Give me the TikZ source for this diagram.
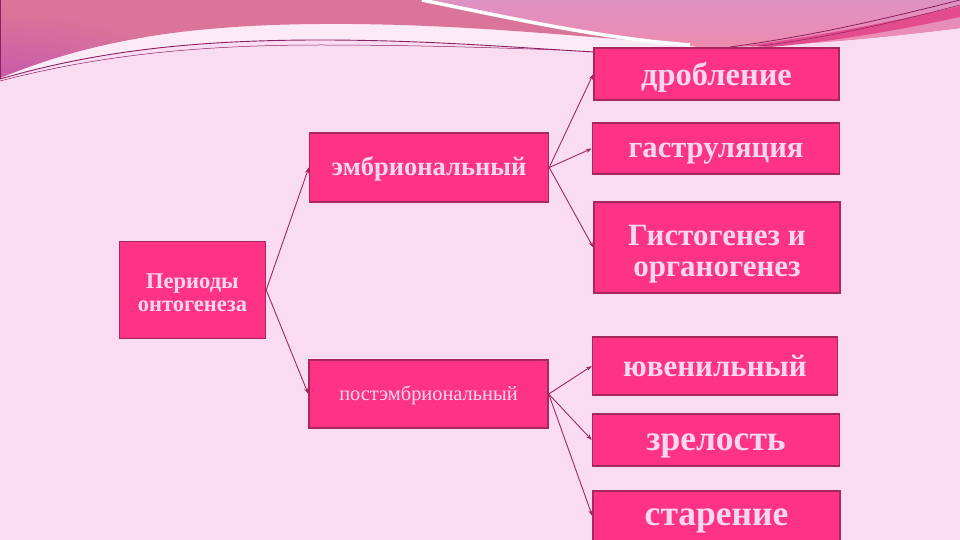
\documentclass[tikz,border=0pt]{standalone}
\usepackage{fontspec}
\setmainfont{Liberation Serif}
\usetikzlibrary{arrows.meta}
\definecolor{bgpink}{HTML}{FADCF2}
\definecolor{paleband}{HTML}{FDEAF7}
\definecolor{banddark}{HTML}{DA7599}
\definecolor{bandmag}{HTML}{C558AC}
\definecolor{boxfill}{HTML}{FF3385}
\definecolor{boxline}{HTML}{A8285E}
\definecolor{boxtext}{HTML}{F8D8EC}
\definecolor{arrowcol}{HTML}{A0285A}
\definecolor{darkline}{HTML}{8A2060}
\definecolor{hotband}{HTML}{E24C8C}
\tikzset{
  pinkbox/.style={draw=boxline, line width=1.4pt, fill=boxfill, text=boxtext,
    inner sep=0pt, align=center},
  oneline/.style={text height=#1, text depth=0pt},
  conn/.style={draw=arrowcol, line width=0.9pt, -{Stealth[length=6pt,width=4pt]}}
}
\begin{document}
\begin{tikzpicture}[x=1pt,y=-1pt]
\useasboundingbox (0,0) rectangle (960,540);
\fill[bgpink] (0,0) rectangle (960,540);
% pale strip under the top band
\fill[paleband] (680,44) .. controls (560,35) and (450,23) .. (320,24)
  .. controls (170,25) and (80,45) .. (0,78)
  -- (0,79) .. controls (100,50) and (200,40) .. (320,40)
  .. controls (430,40) and (520,48) .. (595,52) -- cycle;
% top band
\begin{scope}
\clip (0,0) -- (960,0) -- (960,28) .. controls (880,38) and (790,47) .. (700,47) -- (680,44)
  .. controls (560,35) and (450,23) .. (320,24)
  .. controls (170,25) and (80,45) .. (0,78) -- cycle;
\fill[banddark] (0,0) rectangle (960,80);
\shade[inner color=bandmag, outer color=banddark] (0,85) ellipse (190 and 75);
\end{scope}
% lighter right region
\shade[top color={rgb,255:red,221;green,146;blue,196}, bottom color={rgb,255:red,239;green,138;blue,175}]
  (425,0) -- (960,0) -- (960,28) .. controls (880,38) and (790,47) .. (700,47) -- (680,44)
  .. controls (600,38) and (520,20) .. (425,0) -- cycle;
% white swoosh
\draw[white, line width=3.5pt] (422,0) .. controls (520,20) and (600,38) .. (690,45);
% hot pink band at right
\fill[hotband] (745,46) .. controls (820,36) and (900,20) .. (960,6) -- (960,17)
  .. controls (900,30) and (830,42) .. (770,47) -- cycle;
% thin dark lines
\draw[darkline, line width=0.9pt] (0,79) .. controls (100,50) and (200,40) .. (320,40)
  .. controls (430,40) and (520,48) .. (595,52);
\draw[darkline, line width=0.5pt] (0,81) .. controls (100,55) and (200,45) .. (320,45)
  .. controls (420,45) and (500,48) .. (560,50);
\draw[darkline, line width=0.8pt] (730,47) .. controls (820,35) and (900,15) .. (960,0);
\draw[darkline, line width=0.5pt] (760,46) .. controls (840,36) and (910,18) .. (960,5);
\draw[darkline, line width=1.2pt] (0.6,0) -- (0.6,79);

% boxes
\node[pinkbox, minimum width=146pt, minimum height=97pt, font=\bfseries\fontsize{22.5}{23}\selectfont]
  (per) at (192.5,290) {\rule{0pt}{21pt}Периоды\\онтогенеза};
\node[pinkbox, oneline=16.1pt, minimum width=239pt, minimum height=69pt, font=\bfseries\fontsize{26.5}{30}\selectfont]
  (emb) at (429,167.5) {эмбриональный};
\node[pinkbox, oneline=12.3pt, minimum width=239pt, minimum height=68pt, font=\fontsize{20.4}{24}\selectfont]
  (post) at (428.5,394) {постэмбриональный};
\node[pinkbox, oneline=22.9pt, minimum width=245pt, minimum height=52pt, font=\bfseries\fontsize{32.5}{36}\selectfont]
  (drob) at (716.5,74) {дробление};
\node[pinkbox, oneline=18pt, minimum width=247pt, minimum height=51pt, font=\bfseries\fontsize{30.6}{34}\selectfont]
  (gast) at (716,148.5) {гаструляция};
\node[pinkbox, minimum width=246pt, minimum height=91pt, font=\bfseries\fontsize{31}{31}\selectfont]
  (gist) at (717,247.5) {\rule{0pt}{33pt}Гистогенез и\\органогенез};
\node[pinkbox, oneline=20.2pt, minimum width=245pt, minimum height=58pt, font=\bfseries\fontsize{31}{35}\selectfont]
  (juv) at (715,366) {ювенильный};
\node[pinkbox, oneline=21.3pt, minimum width=247pt, minimum height=52pt, font=\bfseries\fontsize{35.5}{39}\selectfont]
  (zrel) at (716,440) {зрелость};
\node[pinkbox, oneline=18.3pt, minimum width=247pt, minimum height=50pt, font=\bfseries\fontsize{35.5}{39}\selectfont]
  (star) at (716.5,516) {старение};

% connectors
\draw[conn] (per.east) -- (emb.west);
\draw[conn] (per.east) -- (post.west);
\draw[conn] (emb.east) -- (drob.west);
\draw[conn] (emb.east) -- (gast.west);
\draw[conn] (emb.east) -- (gist.west);
\draw[conn] (post.east) -- (juv.west);
\draw[conn] (post.east) -- (zrel.west);
\draw[conn] (post.east) -- (star.west);
\end{tikzpicture}
\end{document}
